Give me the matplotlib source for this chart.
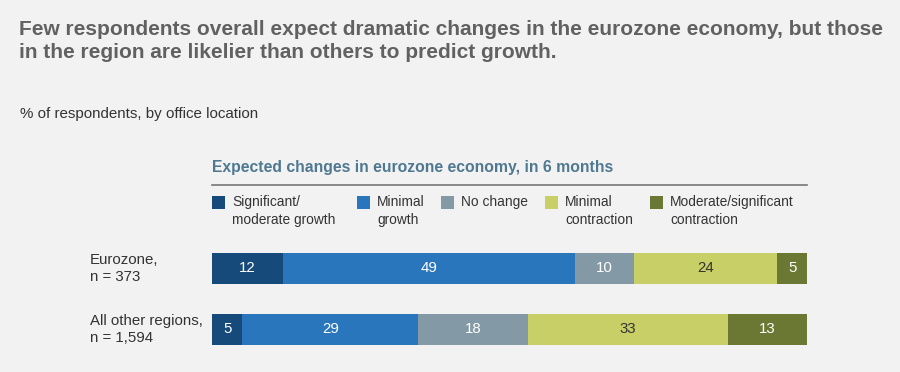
import matplotlib
matplotlib.use("Agg")
import matplotlib.pyplot as plt
from matplotlib.patches import Rectangle

plt.rcParams['font.family'] = ['Liberation Sans', 'DejaVu Sans']

title = "Few respondents overall expect dramatic changes in the eurozone economy, but those\nin the region are likelier than others to predict growth."
subtitle = "% of respondents, by office location"
chart_heading = "Expected changes in eurozone economy, in 6 months"

rows = ["Eurozone,\nn = 373", "All other regions,\nn = 1,594"]
categories = ["Significant/\nmoderate growth", "Minimal\ngrowth", "No change",
              "Minimal\ncontraction", "Moderate/significant\ncontraction"]
sig_growth = [12, 5]
min_growth = [49, 29]
no_change = [10, 18]
min_contraction = [24, 33]
mod_contraction = [5, 13]

series = [sig_growth, min_growth, no_change, min_contraction, mod_contraction]
colors = ["#154a7b", "#2a76bd", "#8399a6", "#c8cf67", "#6b7833"]
label_colors = ["white", "white", "white", "#333333", "white"]

W, H = 900, 372
fig = plt.figure(figsize=(9, 3.72), dpi=100)
bg = "#f2f2f2"
fig.patch.set_facecolor(bg)

def fx(px):
    return px / W

def fy(py):
    return 1 - py / H

# Title
fig.text(fx(19), fy(20), title, ha="left", va="top", fontsize=15, fontweight="bold",
         color="#616161", linespacing=1.25)
fig.text(fx(20), fy(114), subtitle, ha="left", va="center", fontsize=10.9, color="#333333")
fig.text(fx(212), fy(167), chart_heading, ha="left", va="center", fontsize=11.3,
         fontweight="bold", color="#4f7891")
fig.add_artist(plt.Line2D([fx(212), fx(807)], [fy(184.5), fy(184.5)], color="#777777", lw=1.2))

# Legend
sq_x = [212, 357, 441, 545, 650]
for i, (cat, c) in enumerate(zip(categories, colors)):
    fig.add_artist(Rectangle((fx(sq_x[i]), fy(209)), 13 / W, 13 / H, facecolor=c,
                             edgecolor="none", transform=fig.transFigure))
    fig.text(fx(sq_x[i] + 20), fy(195), cat, ha="left", va="top", fontsize=9.9,
             color="#333333", linespacing=1.35)

# Bars
ax = fig.add_axes([fx(212), (H - 360) / H, 595 / W, 120 / H])
ax.set_facecolor(bg)
totals = [sum(s[r] for s in series) for r in range(len(rows))]
ypos = list(range(len(rows)))
lefts = [0.0] * len(rows)
for s, c, lc in zip(series, colors, label_colors):
    widths = [v / t * 100 for v, t in zip(s, totals)]
    ax.barh(ypos, widths, left=lefts, height=0.508, color=c, edgecolor="none")
    for r in ypos:
        ax.text(lefts[r] + widths[r] / 2, r, str(s[r]), ha="center", va="center",
                fontsize=10.8, color=lc)
    lefts = [l + w for l, w in zip(lefts, widths)]

ax.set_xlim(0, 100)
ax.set_ylim(1.5, -0.467)
ax.axis("off")

for r, lab in enumerate(rows):
    ax.text(-122 / 595 * 100, r, lab, ha="left", va="center", fontsize=10.8,
            color="#333333", linespacing=1.35)

fig.savefig("out.png", dpi=100, facecolor=bg)
